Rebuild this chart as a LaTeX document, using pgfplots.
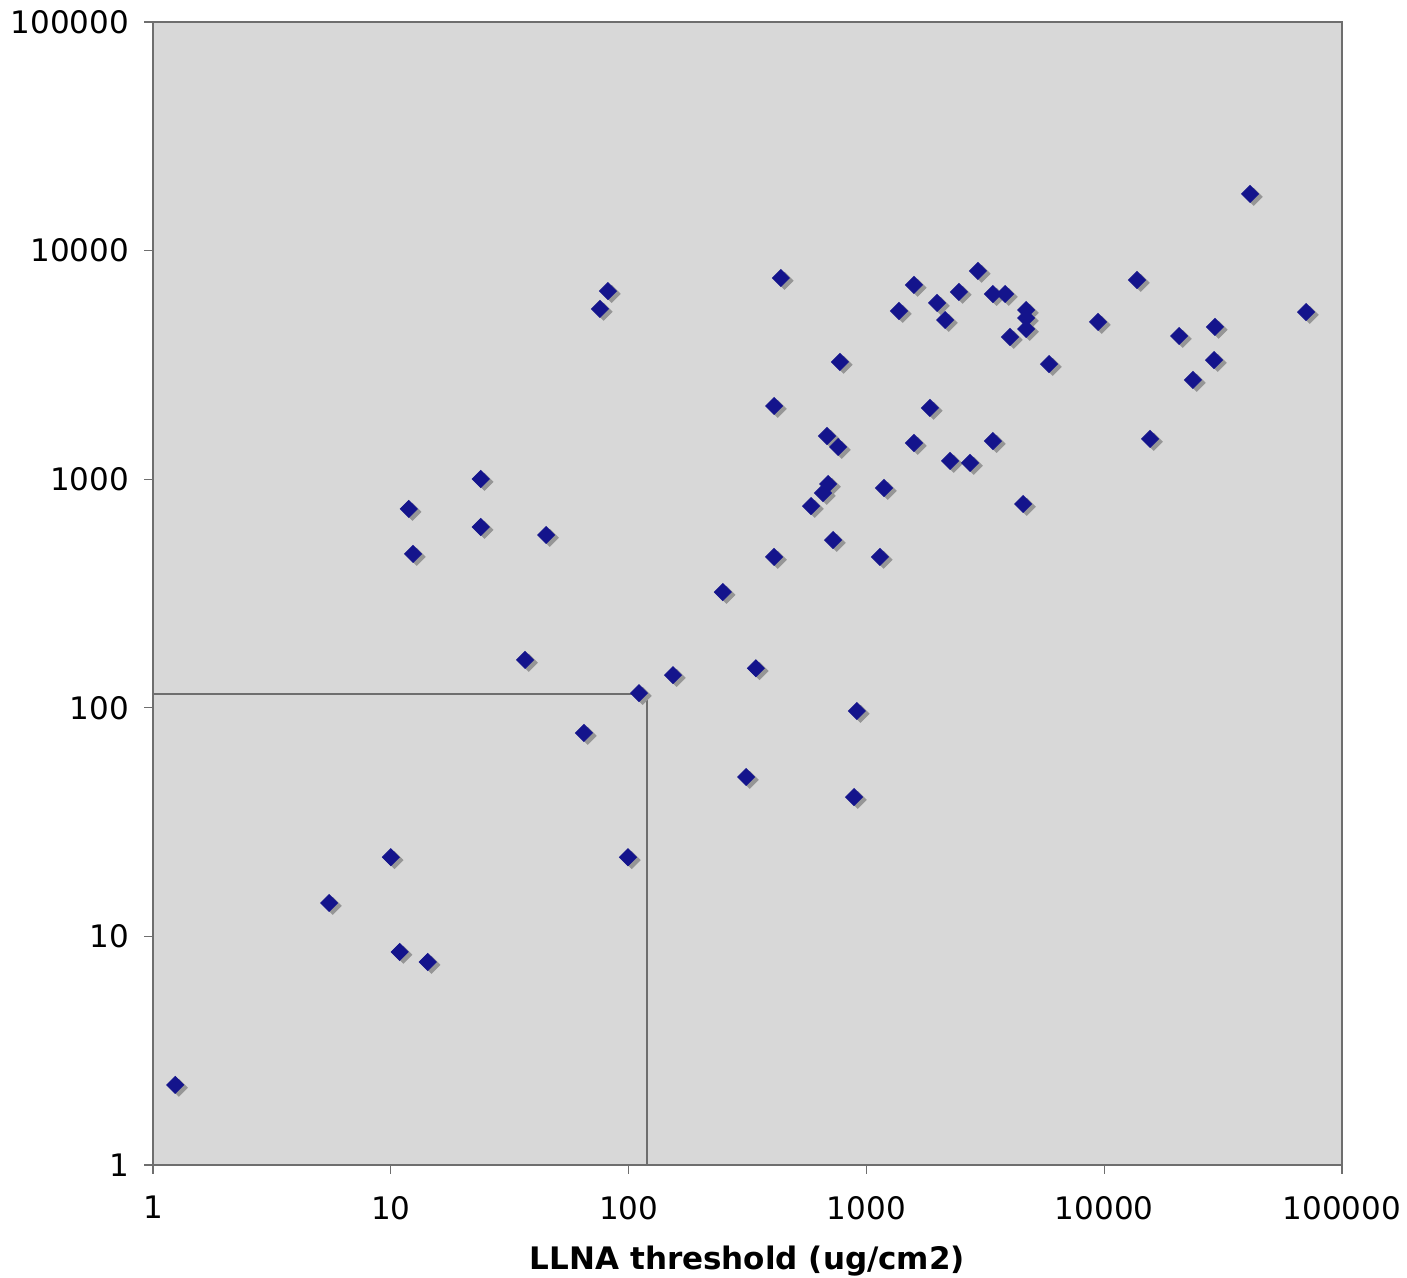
\documentclass[border=0pt]{standalone}
\usepackage{fontspec}
\setmainfont{DejaVu Sans}
\usepackage{pgfplots}
\pgfplotsset{compat=1.18}
\definecolor{bgc}{RGB}{216,216,216}
\definecolor{mk}{RGB}{20,20,140}
\definecolor{shd}{RGB}{150,150,150}
\definecolor{axc}{RGB}{110,110,110}
\begin{document}
\begin{tikzpicture}
\path[use as bounding box] (-76.5pt,-56.5pt) rectangle (627pt,582.5pt);
\begin{axis}[
  scale only axis,
  width=594.5pt, height=571.5pt,
  xmode=log, ymode=log,
  xmin=1, xmax=100000, ymin=1, ymax=100000,
  xtick={1,10,100,1000,10000,100000},
  ytick={1,10,100,1000,10000,100000},
  xticklabels={1,10,100,1000,10000,100000},
  yticklabels={1,10,100,1000,10000,100000},
  minor tick num=0,
  log basis x=10, log basis y=10,
  xminorticks=false, yminorticks=false,
  tick align=outside,
  major tick length=4.5pt,
  tick style={axc, line width=0.6pt},
  xtick pos=bottom, ytick pos=left,
  axis line style={draw=axc, line width=0.8pt},
  axis background/.style={fill=bgc},
  /pgf/number format/assume math mode=true,
  ticklabel style={font=\fontsize{15.5}{18.5}\selectfont},
  xticklabel style={yshift=-7.5pt},
  yticklabel style={xshift=-4pt},
  xlabel={\textbf{LLNA threshold (ug/cm2)}},
  every axis x label/.style={at={(rel axis cs:0.5,0)}, anchor=base, yshift=-52pt, font=\fontsize{15.5}{18}\selectfont},
  clip=false,
]
\pgfplotstableread{
x y
1.24 2.24
5.5 14.0
10.0 22.2
10.9 8.55
14.3 7.73
11.9 741
12.4 471
23.9 1002
23.9 618
45 570
36.7 162
64.9 77.6
99.4 22.2
110.6 116
75.8 5556
81.9 6653
153.7 139
249 321
343 149
312 49.8
409 2090
409 457
437 7590
585 763
657 870
690 953
683 1545
760 1383
774 3257
724 542
912 96.8
887 40.7
1140 457
1186 915
1371 5443
1585 7075
1585 1440
1850 2049
1982 5900
2142 4970
2248 1202
2450 6592
2728 1178
2945 8145
3405 1469
3405 6457
3830 6457
4017 4188
4560 779
4694 5495
4694 5070
4694 4540
5861 3190
9418 4873
13740 7436
15590 1500
20650 4230
23620 2717
28960 3320
29230 4635
41040 17690
70600 5387
}\pts
\addplot[draw=axc, line width=1pt] coordinates {(1,115) (120,115) (120,1)};
\addplot[only marks, mark=square*, mark size=3.0pt, mark options={draw=shd, fill=shd, rotate=45, xshift=0.3pt, yshift=-2.3pt}] table[x=x,y=y] {\pts};
\addplot[only marks, mark=square*, mark size=3.0pt, mark options={draw=mk, fill=mk, rotate=45}] table[x=x,y=y] {\pts};
\end{axis}
\end{tikzpicture}
\end{document}
